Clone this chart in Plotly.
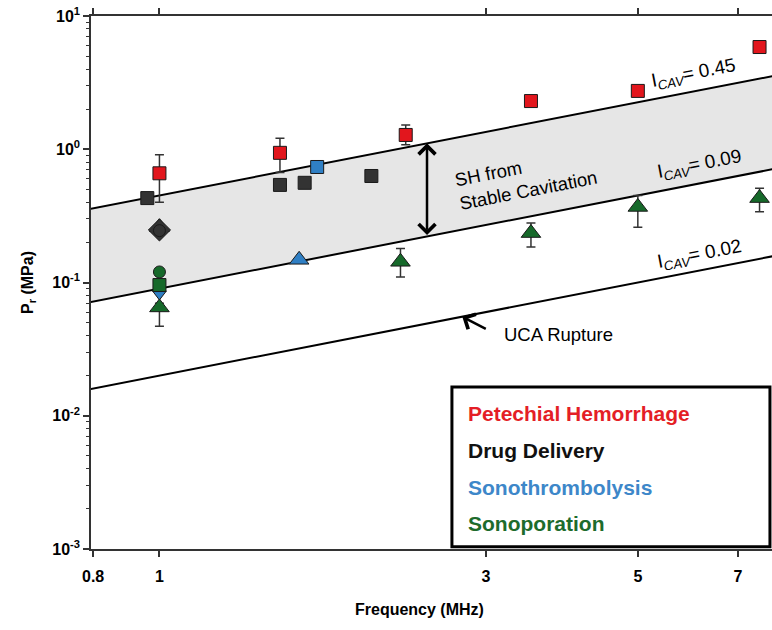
import math
import plotly.graph_objects as go

nan = float("nan")

# Cavitation-index thresholds: P_r = I_CAV * f
icav_levels = [0.45, 0.09, 0.02]
freq_span = [0.7, 9.0]

# Petechial hemorrhage
ph_freq = [1.0, 1.5, 2.29, 3.49, 5.0, 7.53]
ph_pr = [0.66, 0.94, 1.28, 2.30, 2.74, 5.85]
ph_hi = [0.91, 1.21, 1.52, nan, nan, nan]
ph_lo = [0.40, 0.67, 1.08, nan, nan, nan]

# Drug delivery
dd_freq = [0.96, 1.5, 1.63, 2.04, 1.0, 1.0]
dd_pr = [0.43, 0.54, 0.56, 0.63, 0.248, 0.245]
dd_sym = ["square", "square", "square", "square", "diamond", "circle"]

# Sonothrombolysis
st_freq = [1.70, 1.60, 1.0]
st_pr = [0.736, 0.148, 0.082]
st_sym = ["square", "triangle-up", "triangle-down"]

# Sonoporation
sp_freq = [1.0, 1.0, 1.0, 1.0, 2.25, 3.49, 5.0, 7.53]
sp_pr = [0.26, 0.12, 0.0957, 0.065, 0.143, 0.235, 0.369, 0.43]
sp_sym = ["triangle-up", "circle", "square", "triangle-up",
          "triangle-up", "triangle-up", "triangle-up", "triangle-up"]
sp_hi = [nan, nan, nan, 0.07, 0.18, 0.28, 0.45, 0.51]
sp_lo = [nan, nan, nan, 0.047, 0.11, 0.185, 0.26, 0.34]

x_ticks = [0.8, 1, 3, 5, 7]
y_ticks = [1e-3, 1e-2, 1e-1, 1e0, 1e1]
y_ticktext = ["10<sup>-3</sup>", "10<sup>-2</sup>", "10<sup>-1</sup>",
              "10<sup>0</sup>", "10<sup>1</sup>"]

legend_names = ["Petechial Hemorrhage", "Drug Delivery",
                "Sonothrombolysis", "Sonoporation"]

FONT = "Liberation Sans, Arial, Helvetica, sans-serif"
RED, DARK, BLUE, GREEN = "#e2161d", "#333333", "#2f7fc4", "#16692a"
TEXT_COLORS = ["#e41e26", "#111111", "#3d87c9", "#1d6b2c"]
SIZES = {"square": 13, "triangle-up": 17, "triangle-down": 12,
         "circle": 12, "diamond": 17}


def err(vals, hi, lo):
    up = [h - v if not math.isnan(h) else nan for v, h in zip(vals, hi)]
    dn = [v - l if not math.isnan(l) else nan for v, l in zip(vals, lo)]
    return dict(type="data", symmetric=False, array=up, arrayminus=dn,
                color="#333333", thickness=1.5, width=4.5)


fig = go.Figure()

# Threshold lines with the shaded band between 0.09 and 0.45
line_style = dict(color="black", width=2)
fig.add_trace(go.Scatter(x=freq_span, y=[icav_levels[1] * f for f in freq_span],
                         mode="lines", line=line_style, hoverinfo="skip"))
fig.add_trace(go.Scatter(x=freq_span, y=[icav_levels[0] * f for f in freq_span],
                         mode="lines", line=line_style, fill="tonexty",
                         fillcolor="#e6e6e6", hoverinfo="skip"))
fig.add_trace(go.Scatter(x=freq_span, y=[icav_levels[2] * f for f in freq_span],
                         mode="lines", line=line_style, hoverinfo="skip"))


def series(name, fx, py, syms, color, error=None):
    return go.Scatter(
        x=fx, y=py, mode="markers", name=name,
        marker=dict(symbol=syms, size=[SIZES[s] for s in syms], color=color,
                    opacity=1, line=dict(color="#1a1a1a", width=1)),
        error_y=error)


fig.add_trace(series(legend_names[2], st_freq, st_pr, st_sym, BLUE))
fig.add_trace(series(legend_names[3], sp_freq, sp_pr, sp_sym, GREEN,
                     err(sp_pr, sp_hi, sp_lo)))
fig.add_trace(series(legend_names[1], dd_freq, dd_pr, dd_sym, DARK))
fig.add_trace(series(legend_names[0], ph_freq, ph_pr, ["square"] * len(ph_freq),
                     RED, err(ph_pr, ph_hi, ph_lo)))

annotations = []


def label(x, y, text, size, **kw):
    d = dict(x=x, y=y, xref="paper", yref="paper", showarrow=False,
             xanchor="center", yanchor="middle", text=text,
             font=dict(family=FONT, size=size, color=kw.pop("color", "black")))
    d.update(kw)
    return d


# Rotated threshold labels
for lab, (px, py) in zip(["0.45", "0.09", "0.02"],
                         [(0.885, 0.891), (0.893, 0.720), (0.893, 0.552)]):
    annotations.append(label(px, py, "I<sub><i>CAV</i></sub>= " + lab, 19,
                             textangle=-11))

annotations.append(label(0.639, 0.696, "SH from<br>Stable Cavitation", 18.5,
                         align="left", textangle=-11))

# Double-headed arrow spanning the stable-cavitation band
f_arrow = 2.46
annotations.append(dict(
    x=math.log10(f_arrow), y=math.log10(icav_levels[0] * f_arrow),
    ax=math.log10(f_arrow), ay=math.log10(icav_levels[1] * f_arrow),
    xref="x", yref="y", axref="x", ayref="y", text="",
    showarrow=True, arrowside="end+start", arrowhead=4, startarrowhead=4,
    arrowwidth=2.5, arrowsize=1.3, startarrowsize=1.3,
    standoff=0, startstandoff=0, arrowcolor="black"))

# UCA rupture pointer
f_uca = 2.77
annotations.append(dict(
    x=math.log10(f_uca), y=math.log10(icav_levels[2] * f_uca),
    ax=25, ay=13, xref="x", yref="y", text="",
    showarrow=True, arrowhead=4, arrowwidth=2.5, arrowsize=1.3,
    standoff=0, arrowcolor="black"))
annotations.append(label(0.686, 0.403, "UCA Rupture", 18.5))

# Legend text
for name, col, yy in zip(legend_names, TEXT_COLORS, [0.255, 0.184, 0.116, 0.047]):
    annotations.append(label(0.551, yy, "<b>" + name + "</b>", 21,
                             xanchor="left", color=col))

# Axis titles
annotations.append(label(-0.0925, 0.499, "<b>P<sub>r</sub> (MPa)</b>", 16,
                         textangle=-90))
annotations.append(label(0.483, -0.113, "<b>Frequency (MHz)</b>", 16))

minor_y = [m * 10 ** e for e in range(-3, 1) for m in range(2, 10)]

fig.update_layout(
    width=772, height=630,
    margin=dict(l=91, r=0, t=16, b=81),
    paper_bgcolor="white", plot_bgcolor="white",
    showlegend=False,
    font=dict(family=FONT, color="black"),
    annotations=annotations,
    shapes=[dict(type="rect", xref="paper", yref="paper",
                 x0=0.530, x1=0.997, y0=0.004, y1=0.304,
                 line=dict(color="black", width=3), fillcolor="white",
                 layer="above")],
    xaxis=dict(
        type="log", range=[-0.1, 0.895],
        tickmode="array", tickvals=x_ticks, ticktext=[str(v) for v in x_ticks],
        ticks="outside", ticklen=6, tickwidth=1.5, tickcolor="#333333",
        ticklabelstandoff=6,
        showline=True, linecolor="#333333", linewidth=1.5, mirror="ticks",
        showgrid=False, zeroline=False,
        tickfont=dict(family=FONT, size=16, weight="bold", color="black")),
    yaxis=dict(
        type="log", range=[-3, 1],
        tickmode="array", tickvals=y_ticks, ticktext=y_ticktext,
        ticks="outside", ticklen=6, tickwidth=1.5, tickcolor="#333333",
        showline=True, linecolor="#333333", linewidth=1.5,
        showgrid=False, zeroline=False,
        minor=dict(tickmode="array", tickvals=minor_y, ticks="outside",
                   ticklen=3, tickwidth=1, tickcolor="#333333", showgrid=False),
        tickfont=dict(family=FONT, size=16, weight="bold", color="black")),
)

fig.write_html("out.html")
